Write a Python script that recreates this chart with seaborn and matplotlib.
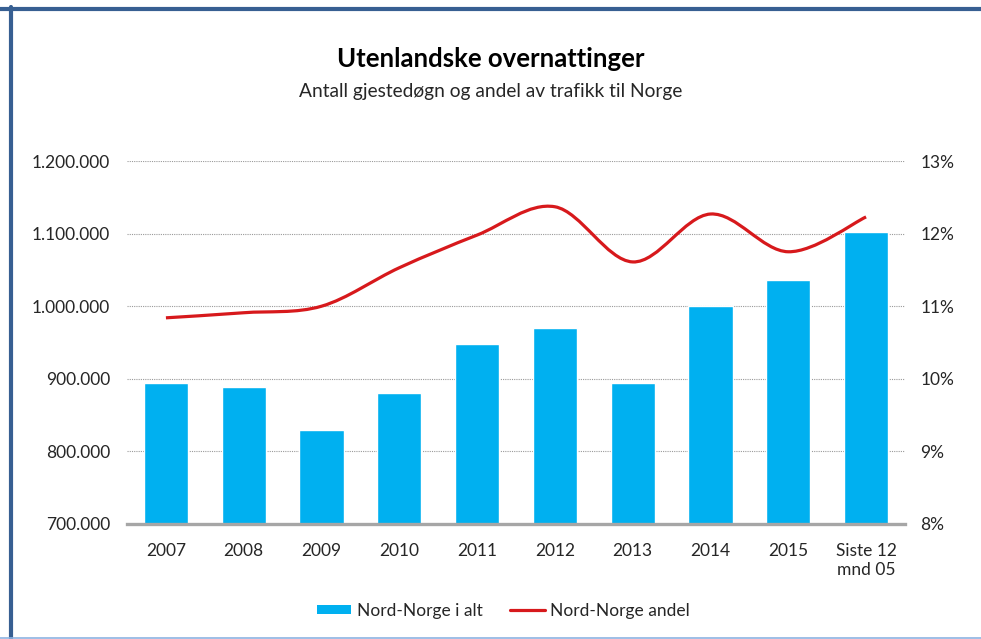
import numpy as np
import pandas as pd
import seaborn as sns
import matplotlib.pyplot as plt
from matplotlib.path import Path
from matplotlib.patches import PathPatch, Patch
from matplotlib.lines import Line2D
from matplotlib.ticker import FuncFormatter


# data
aar = ["2007", "2008", "2009", "2010", "2011", "2012", "2013", "2014", "2015", "Siste 12\nmnd 05"]
gjestedogn = [894000, 889000, 829000, 880000, 948000, 970000, 894000, 1000000, 1036000, 1102000]
andel = [10.84, 10.91, 11.00, 11.53, 11.98, 12.37, 11.61, 12.27, 11.75, 12.23]

bar_farge = "#00B0F0"
linje_farge = "#D7191C"

sns.set_theme(style="white")
plt.rcParams['font.family'] = ['Lato', 'DejaVu Sans']

df = pd.DataFrame({"aar": aar, "gjestedogn": gjestedogn, "andel": andel})

fig = plt.figure(figsize=(9.81, 6.39), dpi=100)
ax = fig.add_axes([0.1295, 0.180, 0.793, 0.568])

sns.barplot(data=df, x="aar", y="gjestedogn", color=bar_farge, saturation=1,
            width=0.57, ax=ax)
ax.set_xlim(-0.5, len(aar) - 0.5)
ax.set_ylim(700000, 1200000)
ax.set_yticks(np.arange(700000, 1200001, 100000))
ax.yaxis.set_major_formatter(FuncFormatter(lambda v, p: f"{v:,.0f}".replace(",", ".")))
ax.set_xlabel("")
ax.set_ylabel("")
ax.grid(axis="y", color="#9A9A9A", linestyle=(0, (1, 1)), linewidth=0.8)
ax.set_axisbelow(True)
for s in ["top", "right", "left"]:
    ax.spines[s].set_visible(False)
ax.spines["bottom"].set_color("#A6A6A6")
ax.spines["bottom"].set_linewidth(2.4)
ax.tick_params(axis="y", length=0, pad=12, labelsize=12.5, labelcolor="#262626")
ax.tick_params(axis="x", length=0, pad=14, labelsize=12.5, labelcolor="#262626")

# right axis with share line, smoothed like Excel (Catmull-Rom bezier)
ax2 = ax.twinx()
ax2.set_ylim(8, 13)
ax2.set_yticks(range(8, 14))
ax2.yaxis.set_major_formatter(FuncFormatter(lambda v, p: f"{v:.0f}%"))
for s in ax2.spines.values():
    s.set_visible(False)
ax2.tick_params(axis="y", length=0, pad=11, labelsize=12.5, labelcolor="#262626")
ax2.grid(False)

pts = np.column_stack([np.arange(len(andel)), andel])
ext = np.vstack([pts[0], pts, pts[-1]])
verts = [pts[0]]
codes = [Path.MOVETO]
for i in range(len(pts) - 1):
    p0, p1, p2, p3 = ext[i], ext[i + 1], ext[i + 2], ext[i + 3]
    verts += [p1 + (p2 - p0) / 6, p2 - (p3 - p1) / 6, p2]
    codes += [Path.CURVE4] * 3
ax2.add_patch(PathPatch(Path(verts, codes), facecolor="none", edgecolor=linje_farge,
                        linewidth=2.3, capstyle="butt"))

fig.text(0.5, 0.895, "Utenlandske overnattinger", ha="center", va="baseline",
         fontsize=18.5, fontweight="bold", color="black")
fig.text(0.5, 0.848, "Antall gjestedøgn og andel av trafikk til Norge", ha="center",
         va="baseline", fontsize=13.8, color="#262626")

handles = [Patch(facecolor=bar_farge, edgecolor="none"),
           Line2D([], [], color=linje_farge, linewidth=2.3)]
fig.legend(handles, ["Nord-Norge i alt", "Nord-Norge andel"], loc="center",
           bbox_to_anchor=(0.513, 0.044), ncol=2, frameon=False, fontsize=12.5,
           handlelength=2.0, handleheight=0.45, handletextpad=0.3, columnspacing=1.6,
           labelcolor="#262626")

# frame like the original screenshot
fig.add_artist(Line2D([0.0, 1.0], [1 - 9 / 639, 1 - 9 / 639], transform=fig.transFigure,
                      color="#375F92", linewidth=3.0))
fig.add_artist(Line2D([11 / 981, 11 / 981], [0.0, 1 - 7 / 639], transform=fig.transFigure,
                      color="#375F92", linewidth=3.0))
fig.add_artist(Line2D([0.0, 1.0], [1.5 / 639, 1.5 / 639], transform=fig.transFigure,
                      color="#8DB3E2", linewidth=1.2))

fig.savefig("out.png", dpi=100)
